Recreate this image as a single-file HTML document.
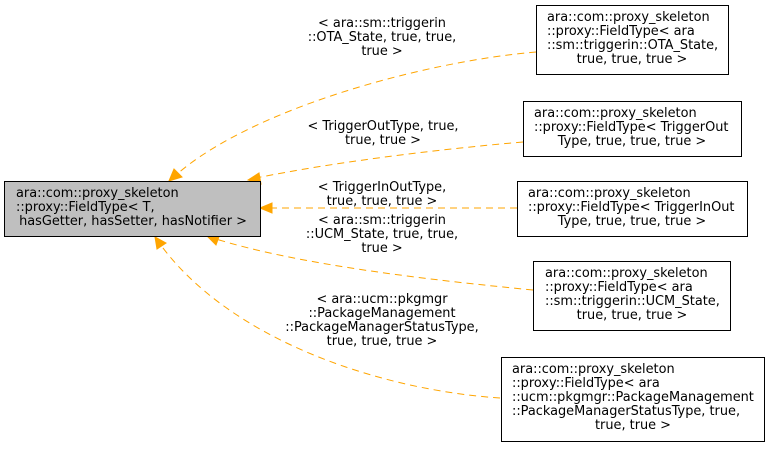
<!DOCTYPE html>
<html><head><style>body{margin:0;background:#fff}svg text{font-family:"DejaVu Sans","Liberation Sans",sans-serif;font-size:12.9px}</style></head><body>
<svg width="769" height="447" viewBox="0 0 769 447" xmlns="http://www.w3.org/2000/svg">
<g fill="none" stroke="#ffa500" stroke-dasharray="7,5" stroke-width="1">
<path d="M536,52 C420,62 250,110 176,175"/>
<path d="M523,142 C430,150 330,163 256,178"/>
<path d="M517,208 L268,208"/>
<path d="M533,290 C430,280 300,265 216,239"/>
<path d="M500,398 C380,390 230,340 160,244"/>
</g>
<g fill="#ffa500" stroke="#ffa500">
<polygon points="169,181 174,169 182,177"/>
<polygon points="248,180 259,173 261,184"/>
<polygon points="260,208 272,203 272,213"/>
<polygon points="207,236 220,234 216,245"/>
<polygon points="155,237 166,243 157,249"/>
</g>
<rect x="4.5" y="181.5" width="256" height="55" fill="#bfbfbf" stroke="#000"/>
<g stroke="#000" fill="#fff">
<rect x="536.5" y="5.5" width="192" height="69"/>
<rect x="523.5" y="101.5" width="218" height="55"/>
<rect x="517.5" y="181.5" width="230" height="55"/>
<rect x="533.5" y="261.5" width="197" height="69"/>
<rect x="501.5" y="357.5" width="263" height="84"/>
</g>
<g fill="#000">
<text x="16" y="197">ara::com::proxy_skeleton</text>
<text x="16" y="211">::proxy::FieldType&lt; T,</text>
<text x="133" y="225" text-anchor="middle">hasGetter, hasSetter, hasNotifier &gt;</text>
<text x="547" y="21">ara::com::proxy_skeleton</text>
<text x="547" y="35">::proxy::FieldType&lt; ara</text>
<text x="547" y="49">::sm::triggerin::OTA_State,</text>
<text x="632" y="63" text-anchor="middle">true, true, true &gt;</text>
<text x="534" y="117">ara::com::proxy_skeleton</text>
<text x="534" y="131">::proxy::FieldType&lt; TriggerOut</text>
<text x="632" y="145" text-anchor="middle">Type, true, true, true &gt;</text>
<text x="528" y="197">ara::com::proxy_skeleton</text>
<text x="528" y="211">::proxy::FieldType&lt; TriggerInOut</text>
<text x="632" y="225" text-anchor="middle">Type, true, true, true &gt;</text>
<text x="545" y="277">ara::com::proxy_skeleton</text>
<text x="545" y="291">::proxy::FieldType&lt; ara</text>
<text x="545" y="305">::sm::triggerin::UCM_State,</text>
<text x="632" y="319" text-anchor="middle">true, true, true &gt;</text>
<text x="512" y="373">ara::com::proxy_skeleton</text>
<text x="512" y="387">::proxy::FieldType&lt; ara</text>
<text x="512" y="401">::ucm::pkgmgr::PackageManagement</text>
<text x="512" y="415">::PackageManagerStatusType, true,</text>
<text x="633" y="429" text-anchor="middle">true, true &gt;</text>
</g>
<g fill="#000" text-anchor="middle">
<text x="382" y="27">&lt; ara::sm::triggerin</text>
<text x="382" y="41">::OTA_State, true, true,</text>
<text x="382" y="55">true &gt;</text>
<text x="383" y="130">&lt; TriggerOutType, true,</text>
<text x="383" y="144">true, true &gt;</text>
<text x="382" y="191">&lt; TriggerInOutType,</text>
<text x="382" y="205">true, true, true &gt;</text>
<text x="382" y="224">&lt; ara::sm::triggerin</text>
<text x="382" y="238">::UCM_State, true, true,</text>
<text x="382" y="252">true &gt;</text>
<text x="382" y="303">&lt; ara::ucm::pkgmgr</text>
<text x="382" y="317">::PackageManagement</text>
<text x="382" y="331">::PackageManagerStatusType,</text>
<text x="382" y="345">true, true, true &gt;</text>
</g>
</svg>
</body></html>
